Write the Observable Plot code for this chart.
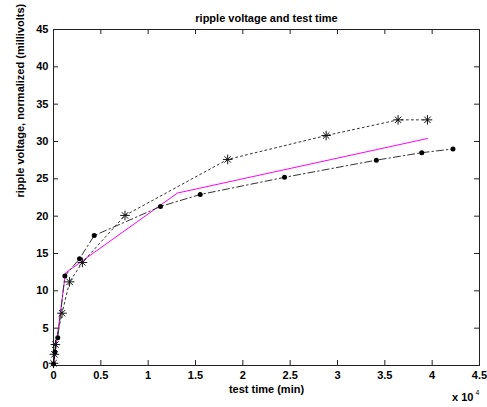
<!DOCTYPE html>
<html>
<head>
<meta charset="utf-8">
<script src="https://cdn.jsdelivr.net/npm/d3@7"></script>
<script src="https://cdn.jsdelivr.net/npm/@observablehq/plot@0.6"></script>
<style>
  html, body { margin: 0; padding: 0; background: #fff; }
  #chart svg { display: block; }
</style>
</head>
<body>
<div id="chart"></div>
<script>
// Series 1: asterisk markers, dotted line
const starTime = [0, 100, 200, 900, 1700, 3050, 7550, 18400, 28800, 36400, 39500];
const starVolt = [0.3, 1.5, 2.8, 7.0, 11.2, 13.8, 20.1, 27.6, 30.8, 32.9, 32.9];
// Series 2: filled dot markers, dash-dot line
const dotTime = [0, 150, 450, 1200, 2750, 4300, 11300, 15500, 24400, 34100, 38900, 42200];
const dotVolt = [0.2, 1.8, 3.7, 12.0, 14.3, 17.4, 21.3, 22.9, 25.2, 27.5, 28.5, 29.0];
// Series 3: magenta fitted line
const fitTime = [0, 1270, 13100, 39500];
const fitVolt = [0, 12.4, 23.1, 30.4];

const xTicks = [0, 5000, 10000, 15000, 20000, 25000, 30000, 35000, 40000, 45000];
const yTicks = [0, 5, 10, 15, 20, 25, 30, 35, 40, 45];

const titleText = "ripple voltage and test time";
const xLabel = "test time (min)";
const yLabel = "ripple voltage, normalized (millivolts)";

const stars = starTime.map((t, i) => ({t, v: starVolt[i]}));
const dots = dotTime.map((t, i) => ({t, v: dotVolt[i]}));
const fit = fitTime.map((t, i) => ({t, v: fitVolt[i]}));

const W = 487, H = 407;
const mTop = 29, mBottom = 42, mLeft = 53, mRight = 8;
const innerH = H - mTop - mBottom;
const innerW = W - mLeft - mRight;
const tick = 5;
const font = "Arial, 'Liberation Sans', sans-serif";

const chart = Plot.plot({
  width: W,
  height: H,
  marginTop: mTop,
  marginBottom: mBottom,
  marginLeft: mLeft,
  marginRight: mRight,
  style: {fontFamily: font, fontSize: "11px", color: "#000", background: "#fff"},
  x: {domain: [0, 45000], axis: null},
  y: {domain: [0, 45], axis: null},
  marks: [
    Plot.frame({stroke: "#222", strokeWidth: 1}),
    // inward ticks on all four sides
    Plot.tickX(xTicks, {x: d => d, insetTop: innerH - tick, stroke: "#222"}),
    Plot.tickX(xTicks, {x: d => d, insetBottom: innerH - tick, stroke: "#222"}),
    Plot.tickY(yTicks, {y: d => d, insetRight: innerW - tick, stroke: "#222"}),
    Plot.tickY(yTicks, {y: d => d, insetLeft: innerW - tick, stroke: "#222"}),
    Plot.axisX(xTicks, {tickSize: 0, tickPadding: 6, tickFormat: d => d / 10000, fontWeight: "bold", fontSize: 11, label: null}),
    Plot.axisY(yTicks, {tickSize: 0, tickPadding: 5, fontWeight: "bold", fontSize: 11, label: null}),
    // data
    Plot.line(fit, {x: "t", y: "v", stroke: "#ff00ff", strokeWidth: 1}),
    Plot.line(stars, {x: "t", y: "v", stroke: "#333", strokeWidth: 1, strokeDasharray: "2,3"}),
    Plot.line(dots, {x: "t", y: "v", stroke: "#333", strokeWidth: 1, strokeDasharray: "7,3,1.5,3"}),
    Plot.dot(stars, {x: "t", y: "v", symbol: "plus", r: 3.2, stroke: "#111", strokeWidth: 1}),
    Plot.dot(stars, {x: "t", y: "v", symbol: "times", r: 3.0, stroke: "#111", strokeWidth: 1}),
    Plot.dot(dots, {x: "t", y: "v", r: 2.5, fill: "#000", stroke: null}),
    // texts
    Plot.text([titleText], {frameAnchor: "top", dy: -15, fontSize: 11, fontWeight: "bold", fill: "#000"}),
    Plot.text([xLabel], {frameAnchor: "bottom", dy: 27, fontSize: 11, fontWeight: "bold", fill: "#000"}),
    Plot.text([yLabel], {frameAnchor: "left", rotate: -90, dx: -33, fontSize: 11, fontWeight: "bold", fill: "#000"}),
    Plot.text(["x 10"], {frameAnchor: "bottom-right", dx: -6, dy: 35, fontSize: 11, fill: "#000", fontWeight: "bold", textAnchor: "end"}),
    Plot.text(["4"], {frameAnchor: "bottom-right", dx: 0, dy: 29, fontSize: 7, fill: "#000", textAnchor: "end"})
  ]
});
document.getElementById("chart").append(chart);
</script>
</body>
</html>
